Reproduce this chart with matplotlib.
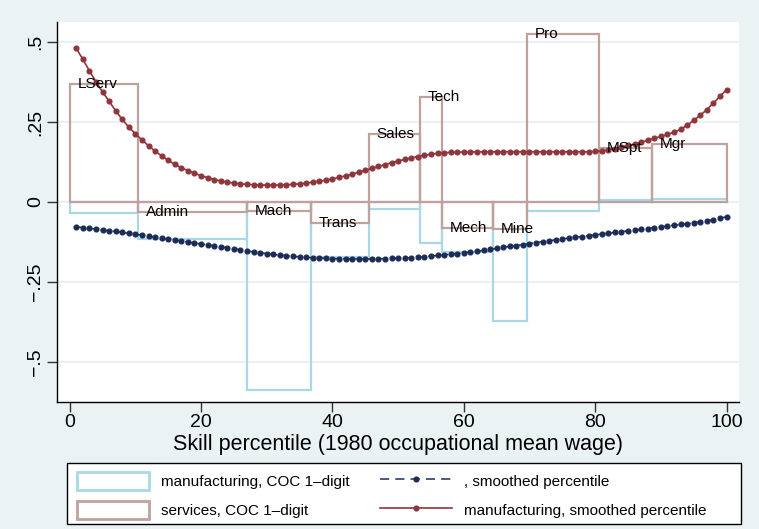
import matplotlib.pyplot as plt
from matplotlib.patches import Patch, Rectangle
from matplotlib.lines import Line2D

plt.rcParams["font.family"] = ["Liberation Sans", "DejaVu Sans"]

# occupation groups (1980 skill percentile spans)
occupations = ["LServ", "Admin", "Mach", "Trans", "Sales", "Tech",
               "Mech", "Mine", "Pro", "MSpt", "Mgr"]
occ_edges = [0, 10.4, 27.0, 36.8, 45.6, 53.4, 56.7, 64.5, 69.6, 80.6, 88.7, 100]
manuf_coc = [-0.035, -0.117, -0.589, -0.172, -0.022, -0.129,
             -0.155, -0.372, -0.027, 0.006, 0.010]
serv_coc = [0.369, -0.030, -0.028, -0.067, 0.2125, 0.327,
            -0.080, -0.084, 0.525, 0.170, 0.181]

# smoothed curves, one point per percentile
percentile = list(range(1, 101))
smooth_blue = [
    -0.078, -0.080, -0.082, -0.085, -0.087, -0.090, -0.092, -0.095, -0.098, -0.101,
    -0.104, -0.107, -0.110, -0.113, -0.116, -0.119, -0.122, -0.125, -0.128, -0.131,
    -0.134, -0.137, -0.140, -0.143, -0.146, -0.150, -0.153, -0.156, -0.159, -0.161,
    -0.164, -0.166, -0.168, -0.170, -0.171, -0.173, -0.174, -0.175, -0.176, -0.177,
    -0.177, -0.178, -0.178, -0.178, -0.178, -0.178, -0.177, -0.177, -0.176, -0.176,
    -0.175, -0.174, -0.172, -0.171, -0.169, -0.167, -0.165, -0.163, -0.161, -0.159,
    -0.156, -0.154, -0.151, -0.148, -0.145, -0.142, -0.139, -0.136, -0.133, -0.130,
    -0.127, -0.124, -0.121, -0.118, -0.115, -0.113, -0.110, -0.108, -0.105, -0.103,
    -0.100, -0.098, -0.095, -0.093, -0.090, -0.088, -0.085, -0.083, -0.080, -0.078,
    -0.075, -0.073, -0.070, -0.068, -0.065, -0.062, -0.059, -0.055, -0.051, -0.046,
]
smooth_red = [
    0.480, 0.446, 0.410, 0.376, 0.344, 0.315, 0.285, 0.258, 0.234, 0.213,
    0.194, 0.176, 0.159, 0.144, 0.130, 0.118, 0.107, 0.098, 0.090, 0.082,
    0.076, 0.070, 0.066, 0.062, 0.059, 0.057, 0.055, 0.054, 0.053, 0.053,
    0.053, 0.053, 0.054, 0.055, 0.057, 0.059, 0.062, 0.065, 0.068, 0.072,
    0.077, 0.082, 0.087, 0.093, 0.099, 0.105, 0.111, 0.117, 0.123, 0.128,
    0.133, 0.138, 0.142, 0.146, 0.149, 0.152, 0.154, 0.155, 0.156, 0.156,
    0.156, 0.157, 0.157, 0.157, 0.157, 0.157, 0.157, 0.157, 0.157, 0.157,
    0.157, 0.157, 0.157, 0.157, 0.157, 0.157, 0.157, 0.157, 0.157, 0.158,
    0.159, 0.163, 0.167, 0.172, 0.177, 0.181, 0.187, 0.193, 0.199, 0.205,
    0.211, 0.218, 0.227, 0.240, 0.255, 0.271, 0.289, 0.309, 0.330, 0.351,
]

legend_labels = ["manufacturing, COC 1\u2013digit", "services, COC 1\u2013digit",
                 ", smoothed percentile", "manufacturing, smoothed percentile"]

BG = "#eaf2f3"
C_MANUF = "#a9d8e6"
C_SERV = "#bfa19d"
C_NAVY = "#1c2c58"
C_RED = "#90353b"

fig = plt.figure(figsize=(7.59, 5.29), dpi=100, facecolor=BG)
ax = fig.add_axes([0.0751, 0.2401, 0.8986, 0.7183])

lefts = occ_edges[:-1]
widths = [b - a for a, b in zip(occ_edges[:-1], occ_edges[1:])]
ax.bar(lefts, manuf_coc, width=widths, align="edge", fill=False,
       edgecolor=C_MANUF, linewidth=1.6, zorder=2)
ax.bar(lefts, serv_coc, width=widths, align="edge", fill=False,
       edgecolor=C_SERV, linewidth=1.6, zorder=3)

for name, x, y in zip(occupations, lefts, serv_coc):
    ax.annotate(name, (x, y), xytext=(5.5, 0), textcoords="offset points",
                ha="left", va="center", fontsize=11, color="black", zorder=6)

ax.plot(percentile, smooth_blue, color=C_NAVY, linestyle=(0, (5, 3)), linewidth=1.1,
        marker="o", markersize=3.4, zorder=4)
ax.plot(percentile, smooth_red, color=C_RED, linestyle="-", linewidth=1.2,
        marker="o", markersize=3.4, zorder=5)

ax.set_xlim(-1.93, 101.9)
ax.set_ylim(-0.625, 0.5625)
ax.set_xticks([0, 20, 40, 60, 80, 100])
ax.set_yticks([-0.5, -0.25, 0, 0.25, 0.5])
ax.set_yticklabels(["\u2212.5", "\u2212.25", "0", ".25", ".5"], rotation=90, va="center")
ax.tick_params(axis="both", labelsize=14, length=7, width=1, color="#333333")
ax.tick_params(axis="x", pad=2)
ax.tick_params(axis="y", pad=2.5)
ax.grid(axis="y", color=BG, linewidth=1.5, zorder=0)
ax.set_axisbelow(True)
for side in ["top", "right"]:
    ax.spines[side].set_visible(False)
for side in ["left", "bottom"]:
    ax.spines[side].set_linewidth(1)
ax.set_xlabel("Skill percentile (1980 occupational mean wage)", fontsize=15.5, labelpad=2)

handles = [
    Patch(facecolor="white", edgecolor=C_MANUF, linewidth=2),
    Patch(facecolor="white", edgecolor=C_SERV, linewidth=2),
    Line2D([], [], color=C_NAVY, linestyle=(0, (6, 4)), linewidth=1.1, marker="o", markersize=3.4),
    Line2D([], [], color=C_RED, linestyle="-", linewidth=1.2, marker="o", markersize=3.4),
]
fig.patches.append(Rectangle((0.0883, 0.0095), 0.888, 0.1153, transform=fig.transFigure,
                             facecolor="white", edgecolor="black", linewidth=1, zorder=0))
fig.legend(handles, legend_labels, ncol=2, loc="upper left", bbox_to_anchor=(0.1014, 0.1078),
           frameon=False, borderpad=0, borderaxespad=0, fontsize=11,
           handlelength=4.7, handleheight=1.45, handletextpad=0.8,
           columnspacing=2.0, labelspacing=0.68)

fig.savefig("out.png", dpi=100, facecolor=BG)
